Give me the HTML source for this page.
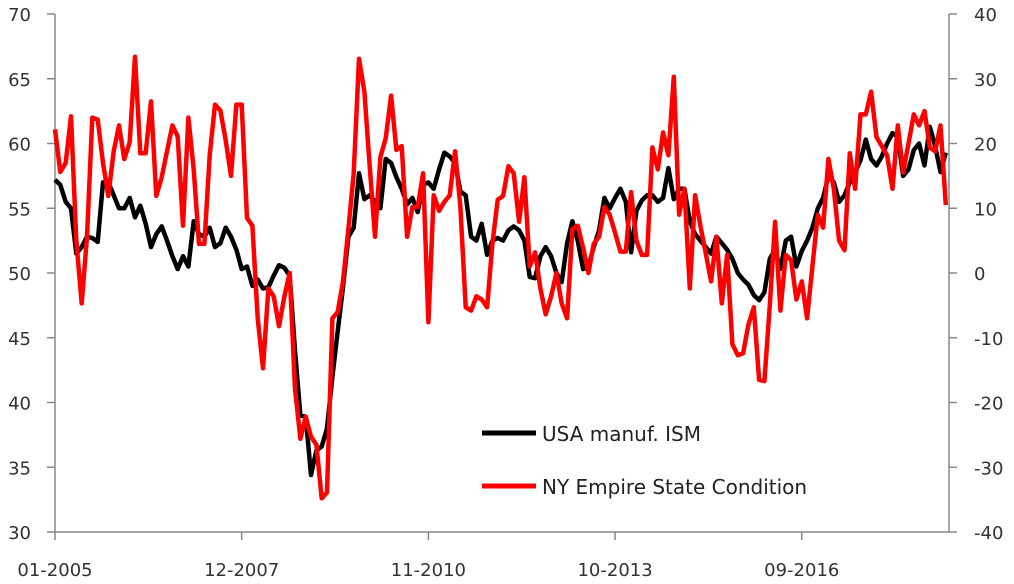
<!DOCTYPE html>
<html><head><meta charset="utf-8"><style>
html,body{margin:0;padding:0;background:#fff;}
svg{display:block;font-family:"DejaVu Sans","Liberation Sans",sans-serif;}
</style></head><body>
<svg id="chart" width="1014" height="584">
<g id="axes"></g><g id="series"></g>
<g>
<line x1="482" y1="433" x2="536" y2="433" stroke="#000" stroke-width="5"/>
<text x="542" y="441" font-size="20" fill="#222">USA manuf. ISM</text>
<line x1="482" y1="486" x2="536" y2="486" stroke="#f00" stroke-width="5"/>
<text x="542" y="494" font-size="20" fill="#222">NY Empire State Condition</text>
</g>
</svg>
<script>
const xLabels=["01-2005","12-2007","11-2010","10-2013","09-2016"];
const xLabelMonths=[0,35,70,105,140];
const leftTicks=[30,35,40,45,50,55,60,65,70];
const rightTicks=[-40,-30,-20,-10,0,10,20,30,40];
const ism=[57.2,56.8,55.5,55,51.5,52,52.8,52.7,52.4,57,57,56,55,55,55.8,54.3,55.2,53.8,52,53,53.6,52.5,51.3,50.3,51.3,50.5,54,53,52.8,53.5,52,52.3,53.5,52.8,51.8,50.3,50.5,49,49.5,48.8,48.9,49.8,50.6,50.4,49.8,44,39,38.9,34.4,36.3,36.6,38,42,45.5,48.9,52.8,53.5,57.7,55.7,56,55.5,55,58.8,58.5,57.4,56.5,55.3,55.8,54.7,56.8,57,56.5,58,59.3,59,58.5,56.3,56,52.8,52.5,53.8,51.4,52.5,52.7,52.5,53.3,53.6,53.3,52.5,49.7,49.6,51.3,52,51.3,50,49.3,52.3,54,52.5,50.3,50.5,52,53.3,55.8,55,55.8,56.5,55.5,51.6,54.8,55.6,56,56,55.5,55.8,58.1,55.7,56.5,56.5,54,53,52.5,52,51.5,52.8,52.3,51.8,51.1,50,49.5,49.1,48.3,47.9,48.5,51.1,51.8,50.3,52.5,52.8,50.5,51.7,52.5,53.5,55,55.8,57.5,57,55.5,56,57,57.8,58.7,60.3,58.8,58.3,59,60,60.8,60.5,57.5,58,59.5,60,58.3,61.3,59.8,57.8,59.3];
const empire=[22.2,15.6,17,24.2,5,-4.7,5.6,24,23.7,17,11.9,18.8,22.8,17.6,20.2,33.4,18.5,18.5,26.5,11.9,14.8,18.8,22.8,21.1,7.3,24,16,4.5,4.5,18.2,26,25.1,20.5,15,26,26,8.5,7.3,-7,-14.7,-2.4,-3.6,-8.2,-3.6,0,-17.9,-25.6,-22.2,-25.3,-26.5,-34.8,-33.9,-7,-6,-1.3,6.8,15.4,33.1,28,16.5,5.6,17.9,20.8,27.4,19,19.6,5.6,10.2,10.2,15.4,-7.6,12,9.6,11,12,18.8,10.2,-5.3,-5.8,-3.6,-4.1,-5.3,4.5,11.3,11.9,16.5,15.4,7.9,14.8,1,3.2,-2.4,-6.4,-3.6,0,-4.7,-7,6.8,7.3,3.9,0,4.5,5.6,10.2,9,6.2,3.3,3.3,12.5,5,2.8,2.8,19.4,16,21.7,18.2,30.3,9,13,-2.4,12,7.3,3,-1.3,5.6,-4.7,2.8,-11,-12.7,-12.4,-8,-5.3,-16.5,-16.7,-5,7.9,-5.8,2.8,2,-4.1,-1.3,-7,1,9,7,17.6,13,5,3.5,18.5,13,24.5,24.5,28,21,19.6,18.2,13,22.8,15.5,20,24.5,22.8,25,19.4,18.8,22.8,10.5];

const X0=55,X1=949,Y0=532,Y1=14;
const xs=m=>X0+m*(X1-X0)/167.6;
const yl=v=>Y0-(v-30)*(Y0-Y1)/40;
const yr=v=>Y0-(v+40)*(Y0-Y1)/80;
const NS="http://www.w3.org/2000/svg";
const axes=document.getElementById('axes'),ser=document.getElementById('series');
function mk(tag,attrs,parent){const e=document.createElementNS(NS,tag);for(const k in attrs)e.setAttribute(k,attrs[k]);parent.appendChild(e);return e;}
const ac="#888";
let a=mk('line',{x1:X0,y1:Y1,x2:X0,y2:Y0,stroke:ac,'stroke-width':1.5},axes);


a=mk('line',{x1:X1,y1:Y1,x2:X1,y2:Y0,stroke:ac,'stroke-width':1.5},axes);


a=mk('line',{x1:X0,y1:Y0,x2:X1,y2:Y0,stroke:ac,'stroke-width':1.5},axes);


leftTicks.forEach(v=>{const y=yl(v);
 mk('line',{x1:X0-8,y1:y,x2:X0,y2:y,stroke:ac,'stroke-width':1.5},axes);
 const t=mk('text',{x:31,y:y+7,'font-size':18,fill:'#333','text-anchor':'end'},axes);t.textContent=v;
 
 });
rightTicks.forEach(v=>{const y=yr(v);
 mk('line',{x1:X1,y1:y,x2:X1+8,y2:y,stroke:ac,'stroke-width':1.5},axes);
 const t=mk('text',{x:974,y:y+7,'font-size':18,fill:'#333'},axes);t.textContent=v;
 
 });
xLabels.forEach((l,i)=>{const x=xs(xLabelMonths[i]);
 mk('line',{x1:x,y1:Y0,x2:x,y2:Y0+8,stroke:ac,'stroke-width':1.5},axes);
 const t=mk('text',{x:x,y:576,'font-size':18,fill:'#333','text-anchor':'middle'},axes);t.textContent=l;
 
 });
function line(arr,yf,col,name){const d=arr.map((v,i)=>(i?'L':'M')+xs(i).toFixed(1)+','+yf(v).toFixed(1)).join('');
 const p=mk('path',{d:d,fill:'none',stroke:col,'stroke-width':4.5,'stroke-linejoin':'round'},ser);
 
 }
line(ism,yl,'#000','ism-line');
line(empire,yr,'#f00','empire-line');
</script>
</body></html>
